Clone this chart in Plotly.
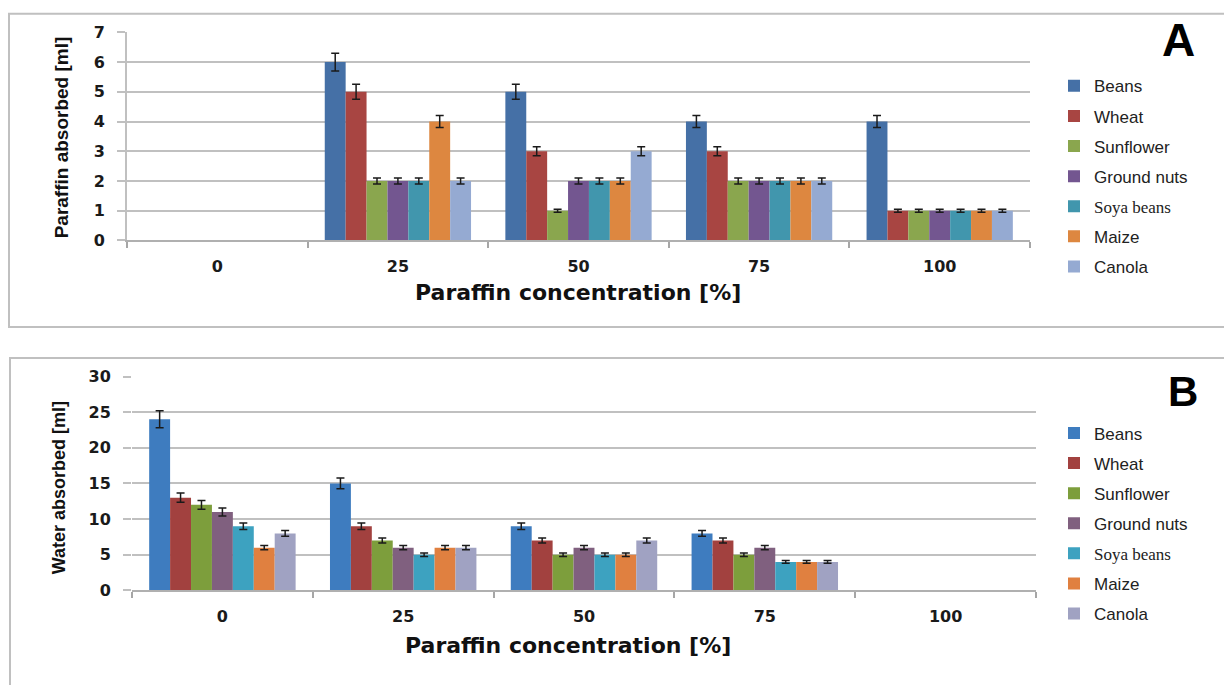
import plotly.graph_objects as go

W, H = 1224, 685

categories = ["0", "25", "50", "75", "100"]
series = ["Beans", "Wheat", "Sunflower", "Ground nuts", "Soya beans", "Maize", "Canola"]
colors_a = ["#4570A6", "#A84542", "#8AA64E", "#735690", "#4196AD", "#DD8740", "#95AAD2"]
colors_b = ["#3E7CBF", "#A2413F", "#7D9E3C", "#80607F", "#3DA2C0", "#E08040", "#A0A2C2"]

# Panel A: paraffin absorbed [ml]
paraffin_beans = [None, 6, 5, 4, 4]
paraffin_wheat = [None, 5, 3, 3, 1]
paraffin_sunflower = [None, 2, 1, 2, 1]
paraffin_groundnuts = [None, 2, 2, 2, 1]
paraffin_soya = [None, 2, 2, 2, 1]
paraffin_maize = [None, 4, 2, 2, 1]
paraffin_canola = [None, 2, 3, 2, 1]

paraffin_err_beans = [None, 0.3, 0.25, 0.2, 0.2]
paraffin_err_wheat = [None, 0.25, 0.15, 0.15, 0.05]
paraffin_err_sunflower = [None, 0.1, 0.05, 0.1, 0.05]
paraffin_err_groundnuts = [None, 0.1, 0.1, 0.1, 0.05]
paraffin_err_soya = [None, 0.1, 0.1, 0.1, 0.05]
paraffin_err_maize = [None, 0.2, 0.1, 0.1, 0.05]
paraffin_err_canola = [None, 0.1, 0.15, 0.1, 0.05]

# Panel B: water absorbed [ml]
water_beans = [24, 15, 9, 8, None]
water_wheat = [13, 9, 7, 7, None]
water_sunflower = [12, 7, 5, 5, None]
water_groundnuts = [11, 6, 6, 6, None]
water_soya = [9, 5, 5, 4, None]
water_maize = [6, 6, 5, 4, None]
water_canola = [8, 6, 7, 4, None]

water_err_beans = [1.2, 0.75, 0.45, 0.4, None]
water_err_wheat = [0.65, 0.45, 0.35, 0.35, None]
water_err_sunflower = [0.6, 0.35, 0.25, 0.25, None]
water_err_groundnuts = [0.55, 0.3, 0.3, 0.3, None]
water_err_soya = [0.45, 0.25, 0.25, 0.2, None]
water_err_maize = [0.3, 0.3, 0.25, 0.2, None]
water_err_canola = [0.4, 0.3, 0.35, 0.2, None]

paraffin_vals = [paraffin_beans, paraffin_wheat, paraffin_sunflower, paraffin_groundnuts,
                 paraffin_soya, paraffin_maize, paraffin_canola]
paraffin_errs = [paraffin_err_beans, paraffin_err_wheat, paraffin_err_sunflower,
                 paraffin_err_groundnuts, paraffin_err_soya, paraffin_err_maize, paraffin_err_canola]
water_vals = [water_beans, water_wheat, water_sunflower, water_groundnuts,
              water_soya, water_maize, water_canola]
water_errs = [water_err_beans, water_err_wheat, water_err_sunflower, water_err_groundnuts,
              water_err_soya, water_err_maize, water_err_canola]


def px_x(p):
    return p / W


def px_y(p):
    return 1 - p / H


def legend_name(name):
    if name == "Soya beans":
        return '<span style="font-family:Liberation Serif">Soya beans</span>'
    return name


fig = go.Figure()

for i, name in enumerate(series):
    fig.add_trace(go.Bar(
        x=categories, y=paraffin_vals[i], name=legend_name(name),
        marker=dict(color=colors_a[i], line=dict(width=0)),
        error_y=dict(type="data", array=paraffin_errs[i], color="#1a1a1a", thickness=1.5, width=4),
        xaxis="x", yaxis="y", legend="legend", legendgroup="a" + str(i),
    ))
for i, name in enumerate(series):
    fig.add_trace(go.Bar(
        x=categories, y=water_vals[i], name=legend_name(name),
        marker=dict(color=colors_b[i], line=dict(width=0)),
        error_y=dict(type="data", array=water_errs[i], color="#1a1a1a", thickness=1.5, width=4),
        xaxis="x2", yaxis="y2", legend="legend2", legendgroup="b" + str(i),
    ))

grid = "#c0c0c0"
tickfont = dict(family="DejaVu Sans", size=16, color="#1a1a1a", weight="bold")

xcommon = dict(type="category", categoryorder="array", categoryarray=categories,
               tickson="boundaries", ticks="outside", ticklen=6, tickcolor="#a6a6a6",
               tickwidth=1.5, showline=True, linecolor="#b0b0b0", linewidth=2,
               showgrid=False, tickfont=tickfont, ticklabelstandoff=10, fixedrange=True)
ycommon = dict(showgrid=True, gridcolor=grid, gridwidth=2, ticks="outside", ticklen=8,
               tickcolor=grid, tickwidth=2, zeroline=False, tickfont=tickfont,
               ticklabelstandoff=9, fixedrange=True)

legend_font = dict(family="Liberation Sans", size=17, color="#222222")


def ann(text, x, y, font, angle=0):
    return dict(text=text, x=px_x(x), y=px_y(y), xref="paper", yref="paper",
                xanchor="center", yanchor="middle", textangle=angle,
                showarrow=False, font=font)


title_font = dict(family="DejaVu Sans", size=22, color="#111111", weight="bold")

fig.update_layout(
    width=W, height=H, margin=dict(l=0, r=0, t=0, b=0),
    paper_bgcolor="white", plot_bgcolor="white",
    barmode="group", bargap=0.19, bargroupgap=0,
    xaxis=dict(domain=[px_x(127), px_x(1030)], anchor="y", **xcommon),
    yaxis=dict(domain=[px_y(238), px_y(24)], anchor="x", range=[0, 7], dtick=1,
               showline=True, linecolor=grid, linewidth=2, **ycommon),
    xaxis2=dict(domain=[px_x(132), px_x(1036)], anchor="y2", **xcommon),
    yaxis2=dict(domain=[px_y(598), px_y(378)], anchor="x2", range=[0, 30], dtick=5,
                showline=False, **ycommon),
    legend=dict(x=px_x(1054), y=px_y(61), xanchor="left", yanchor="top",
                font=legend_font, tracegroupgap=5, bgcolor="rgba(0,0,0,0)", itemwidth=30),
    legend2=dict(x=px_x(1054), y=px_y(418), xanchor="left", yanchor="top",
                 font=legend_font, tracegroupgap=5, bgcolor="rgba(0,0,0,0)", itemwidth=30),
    showlegend=True,
    shapes=[
        dict(type="rect", xref="paper", yref="paper", x0=px_x(9), x1=px_x(1232),
             y0=px_y(327), y1=px_y(5), line=dict(color="#c0c0c0", width=2), layer="below"),
        dict(type="rect", xref="paper", yref="paper", x0=px_x(10), x1=px_x(1232),
             y0=px_y(700), y1=px_y(359), line=dict(color="#c0c0c0", width=2), layer="below"),
    ],
    annotations=[
        ann("Paraffin concentration [%]", 578, 292, title_font),
        ann("Paraffin concentration [%]", 568, 655, title_font),
        ann("Paraffin absorbed [ml]", 61, 132,
            dict(family="Liberation Sans", size=19, color="#111111", weight="bold"), -90),
        ann("Water absorbed [ml]", 59, 493,
            dict(family="Liberation Sans", size=18, color="#111111", weight="bold"), -90),
        ann("A", 1178, 32, dict(family="Liberation Sans", size=46, color="black", weight="bold")),
        ann("B", 1183, 393, dict(family="Liberation Sans", size=42, color="black", weight="bold")),
    ],
)

fig.write_html("out.html", config={"displayModeBar": False},
               post_script="document.body.style.margin='0px';document.body.style.overflow='hidden';")
